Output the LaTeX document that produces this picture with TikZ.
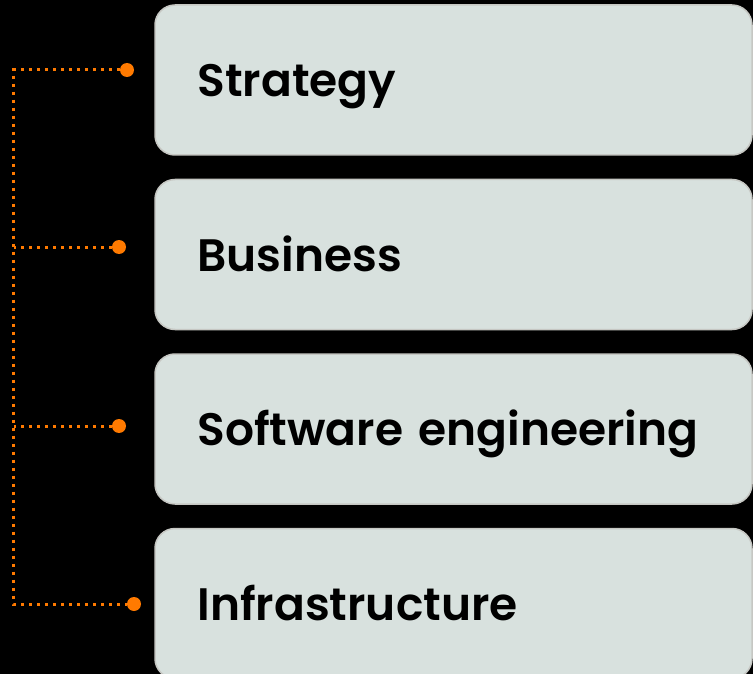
\documentclass[tikz,border=0pt]{standalone}
\usepackage{fontspec}
\newfontfamily\layerfont{Poppins SemiBold}
\usetikzlibrary{positioning}
\definecolor{layerfill}{HTML}{D8E1DE}
\definecolor{layerline}{HTML}{C6C7C3}
\definecolor{linkorange}{HTML}{FF7A00}

\begin{document}
\begin{tikzpicture}[
    layer/.style={rectangle, draw=layerline, line width=1.5pt, fill=layerfill,
        rounded corners=20pt, minimum width=597pt, minimum height=150pt,
        inner xsep=42.5pt, text width=512pt, align=left,
        text height=38pt, text depth=5pt, font=\layerfont\fontsize{45.5}{48}\selectfont},
    dot/.style={circle, fill=linkorange, inner sep=0pt, minimum size=14pt},
    link/.style={linkorange, line width=3pt, dash pattern=on 3pt off 5pt},
    node distance=23pt
]
\fill[black] (0,0) rectangle (753pt,-674pt);
\useasboundingbox (0,0) rectangle (753pt,-674pt);

% layers
\node[layer] (strategy) at (453.5pt,-80pt) {Strategy};
\node[layer, below=of strategy] (business) {Business};
\node[layer, below=of business] (software) {Software engineering};
\node[layer, below=of software] (infra) {Infrastructure};

% dots and the dotted bracket
\node[dot] (d1) at (127pt,-70pt) {};
\node[dot] (d2) at (119pt,-247pt) {};
\node[dot] (d3) at (119pt,-426pt) {};
\node[dot] (d4) at (134pt,-604pt) {};
\coordinate (top) at (13.5pt,-70pt);
\coordinate (bottom) at (13.5pt,-604pt);

\draw[link] (d1) -- (top) -- (bottom) -- (d4);
\draw[link] (d2) -- (d2 -| top);
\draw[link] (d3) -- (d3 -| top);
\end{tikzpicture}
\end{document}
